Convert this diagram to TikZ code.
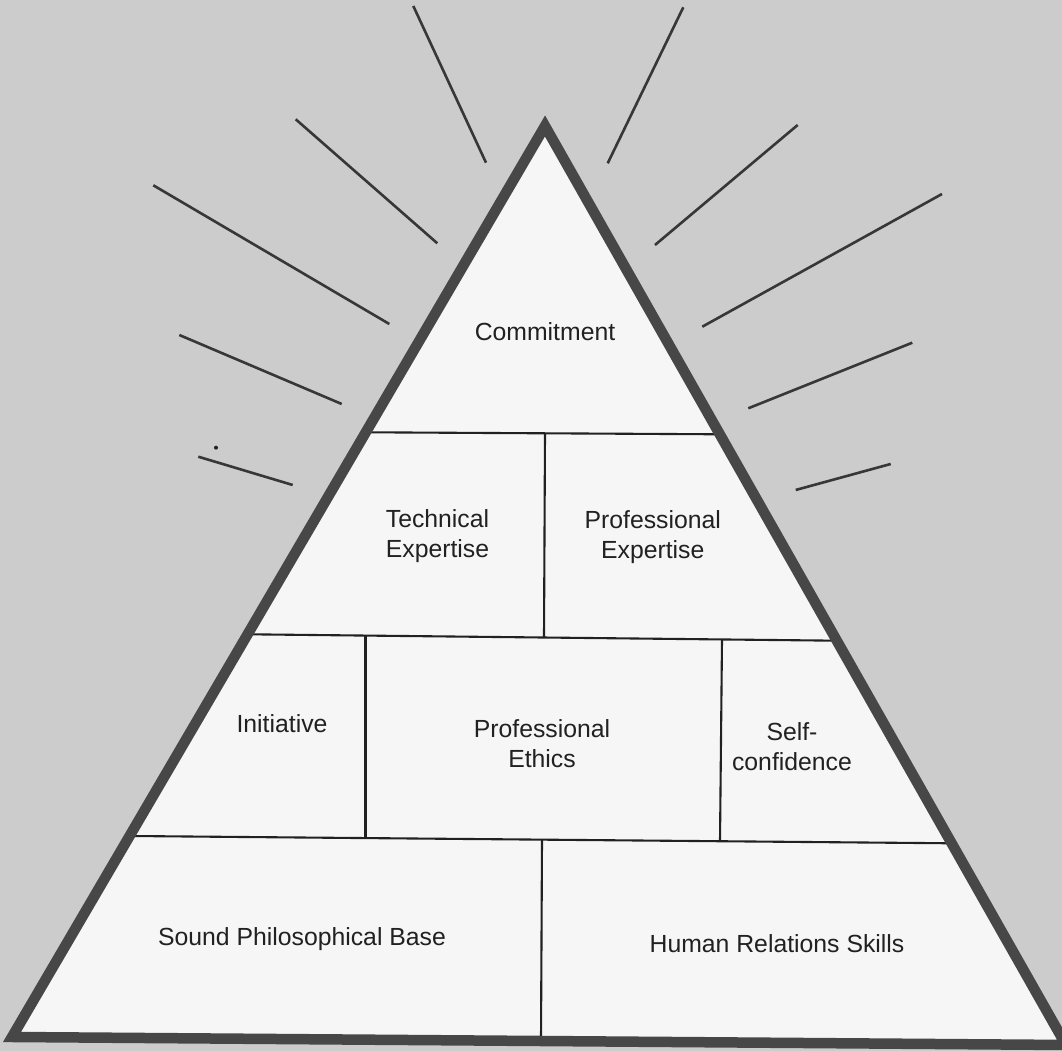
\documentclass[tikz,border=0pt]{standalone}
\usepackage{fontspec}
\setmainfont{Liberation Sans}
\usepackage{tikz}

\definecolor{paper}{gray}{0.80}
\definecolor{sheet}{gray}{0.965}
\definecolor{rim}{gray}{0.28}
\definecolor{ink}{gray}{0.13}

\tikzset{
	blocktext/.style={font=\fontsize{14.1}{16.8}\selectfont, text=ink, align=center, inner sep=0pt},
	ray/.style={draw=ink!90, line width=0.052cm},
	wall/.style={draw=ink, line width=0.042cm}
}

\begin{document}
\begin{tikzpicture}
	%%%%% START %%%%%
	\useasboundingbox (0,0) rectangle (21.24,21.02);
	\fill[paper] (0,0) rectangle (21.24,21.02);

	% rays, left side
	\draw[ray] (8.266, 20.900) -- (9.720, 17.766);
	\draw[ray] (5.914, 18.634) -- (8.746, 16.154);
	\draw[ray] (3.066, 17.314) -- (7.786, 14.540);
	\draw[ray] (3.586, 14.320) -- (6.834, 12.940);
	\draw[ray] (3.966, 11.886) -- (5.854, 11.320);
	\fill[ink] (4.32, 12.066) circle (0.04);

	% rays, right side
	\draw[ray] (13.666, 20.874) -- (12.154, 17.754);
	\draw[ray] (15.954, 18.520) -- (13.100, 16.120);
	\draw[ray] (18.840, 17.140) -- (14.046, 14.486);
	\draw[ray] (18.246, 14.166) -- (14.966, 12.854);
	\draw[ray] (17.814, 11.740) -- (15.914, 11.220);

	% pyramid
	\fill[sheet] (10.90, 18.50) -- (0.24, 0.28) -- (21.32, 0.12) -- cycle;

	\draw[wall] (7.32, 12.374) -- (14.38, 12.334);
	\draw[wall] (4.94, 8.334) -- (16.72, 8.206);
	\draw[wall] (2.60, 4.300) -- (19.04, 4.154);

	\draw[wall] (10.90, 12.354) -- (10.88, 8.270);
	\draw[wall] (7.31, 8.310) -- (7.31, 4.274);
	\draw[wall] (14.44, 8.226) -- (14.40, 4.190);
	\draw[wall] (10.84, 4.230) -- (10.82, 0.220);

	\draw[rim, line width=0.21cm, line join=miter] (10.90, 18.50) -- (0.24, 0.28) -- (21.32, 0.12) -- cycle;

	% labels
	\node[blocktext, anchor=base] (commitment) at (10.90, 14.206) {Commitment};
	\node[blocktext] (technical) at (8.75, 10.303) {Technical\\Expertise};
	\node[blocktext] (proexpert) at (13.055, 10.275) {Professional\\Expertise};
	\node[blocktext] (initiative) at (5.64, 6.54) {Initiative};
	\node[blocktext] (ethics) at (10.84, 6.15) {Professional\\Ethics};
	\node[blocktext] (selfconf) at (15.84, 6.09) {Self-\\confidence};
	\node[blocktext, anchor=base] (philosophy) at (6.04, 2.10) {Sound Philosophical Base};
	\node[blocktext, anchor=base] (relations) at (15.54, 1.96) {Human Relations Skills};
	%%%%% END %%%%%
\end{tikzpicture}
\end{document}
